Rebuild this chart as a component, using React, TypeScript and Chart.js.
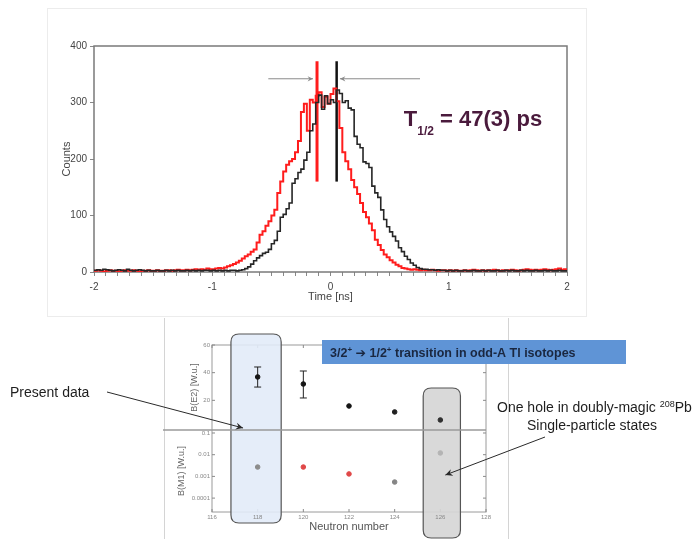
import React, { useEffect, useRef } from 'react';
import { Chart, registerables } from 'chart.js';

Chart.register(...registerables);

const FONT = '"Liberation Sans", Arial, "DejaVu Sans", sans-serif';

// ---------- Top panel: time difference spectra ----------
const timeStart = -2;
const timeEnd = 2;
const binWidth = 0.025;
const timeTickLabels = [-2, -1, 0, 1, 2];
const countTicks = [0, 100, 200, 300, 400];

const redCounts = [
  2, 3, 2, 1, 2, 3, 2, 2, 1, 2, 3, 2, 2, 3, 2, 1, 2, 2, 3, 2,
  2, 3, 2, 2, 3, 3, 2, 3, 4, 3, 3, 4, 3, 4, 5, 4, 5, 4, 6, 5,
  5, 6, 7, 6, 8, 10, 12, 14, 17, 20, 24, 28, 31, 36, 40, 52, 66, 72, 82, 90,
  100, 110, 140, 160, 178, 190, 196, 200, 212, 232, 283, 298, 250, 305, 300, 312, 318, 292, 310, 298,
  315, 325, 302, 255, 212, 196, 182, 163, 150, 138, 122, 106, 97, 86, 74, 57, 48, 39, 31, 26,
  21, 17, 13, 10, 7, 6, 5, 4, 5, 4, 3, 4, 3, 3, 4, 3, 2, 3, 3, 2,
  3, 2, 3, 2, 2, 3, 2, 3, 4, 3, 2, 3, 2, 3, 3, 4, 3, 2, 3, 3,
  3, 4, 3, 2, 3, 4, 5, 4, 3, 4, 3, 4, 5, 4, 3, 4, 5, 6, 4, 5,
];

const blackCounts = [
  3, 4, 3, 5, 4, 3, 2, 3, 4, 3, 2, 5, 3, 2, 3, 4, 3, 2, 3, 2,
  2, 3, 2, 2, 3, 2, 3, 2, 3, 2, 2, 3, 2, 3, 2, 3, 2, 3, 3, 2,
  3, 2, 3, 2, 3, 2, 3, 3, 2, 3, 4, 6, 9, 14, 20, 25, 29, 33, 35, 40,
  50, 56, 72, 97, 102, 112, 122, 157, 165, 176, 182, 198, 212, 250, 262, 300, 313, 288, 312, 298,
  305, 300, 322, 316, 300, 303, 290, 287, 240, 226, 220, 195, 192, 185, 152, 140, 132, 110, 93, 80,
  71, 63, 55, 43, 36, 28, 22, 16, 12, 8, 6, 5, 5, 4, 4, 3, 4, 3, 3, 2,
  3, 2, 3, 2, 2, 3, 2, 2, 3, 2, 2, 3, 2, 3, 2, 2, 3, 2, 2, 3,
  2, 3, 2, 2, 3, 2, 3, 2, 2, 3, 2, 2, 3, 2, 3, 2, 2, 3, 2, 2,
];

const redCentroid = -0.114;
const blackCentroid = 0.052;
const centroidLow = 160;
const centroidHigh = 373;
const leftArrowFrom = -0.526;
const leftArrowTo = -0.148;
const rightArrowFrom = 0.757;
const rightArrowTo = 0.08;
const arrowLevel = 342;
const halfLifeAnchor = { t: 0.62, counts: 258 };

// ---------- Bottom panel: B(E2) and B(M1) systematics ----------
const neutronNumbers = [118, 120, 122, 124, 126];
const neutronTicks = [116, 118, 120, 122, 124, 126, 128];
const be2Values = [36.9, 31.8, 15.9, 11.6, 5.8];
const be2ErrLow = [29.6, 21.7, 15.0, 10.8, 5.2];
const be2ErrHigh = [44.1, 41.2, 16.8, 12.4, 6.4];
const be2Ticks = [20, 40, 60];
const bm1Values = [0.0027, 0.0027, 0.0013, 0.00055, 0.012];
const bm1Ticks = [0.1, 0.01, 0.001, 0.0001];
const be2Colors = ['#151515', '#151515', '#151515', '#202020', '#303030'];
const bm1Colors = ['#8c8c8c', '#e04848', '#e04848', '#858585', '#b4b4b4'];

const presentBox = [116.83, 119.03];
const magicBox = [125.25, 126.88];

function toSteps(counts: number[]) {
  const pts = counts.map((c, i) => ({ x: timeStart + i * binWidth, y: c }));
  pts.push({ x: timeEnd, y: counts[counts.length - 1] });
  return pts;
}

function arrow(ctx: CanvasRenderingContext2D, x1: number, y1: number, x2: number, y2: number, head: number, color: string, lw: number) {
  ctx.save();
  ctx.strokeStyle = color;
  ctx.fillStyle = color;
  ctx.lineWidth = lw;
  ctx.beginPath();
  ctx.moveTo(x1, y1);
  ctx.lineTo(x2, y2);
  ctx.stroke();
  const a = Math.atan2(y2 - y1, x2 - x1);
  ctx.beginPath();
  ctx.moveTo(x2, y2);
  ctx.lineTo(x2 - head * Math.cos(a - 0.45), y2 - head * Math.sin(a - 0.45));
  ctx.lineTo(x2 - head * 0.6 * Math.cos(a), y2 - head * 0.6 * Math.sin(a));
  ctx.lineTo(x2 - head * Math.cos(a + 0.45), y2 - head * Math.sin(a + 0.45));
  ctx.closePath();
  ctx.fill();
  ctx.restore();
}

function roundRect(ctx: CanvasRenderingContext2D, x: number, y: number, w: number, h: number, r: number) {
  ctx.beginPath();
  ctx.moveTo(x + r, y);
  ctx.lineTo(x + w - r, y);
  ctx.quadraticCurveTo(x + w, y, x + w, y + r);
  ctx.lineTo(x + w, y + h - r);
  ctx.quadraticCurveTo(x + w, y + h, x + w - r, y + h);
  ctx.lineTo(x + r, y + h);
  ctx.quadraticCurveTo(x, y + h, x, y + h - r);
  ctx.lineTo(x, y + r);
  ctx.quadraticCurveTo(x, y, x + r, y);
  ctx.closePath();
}

function drawRuns(ctx: CanvasRenderingContext2D, x: number, y: number, runs: { text: string; font: string; dy?: number }[]) {
  for (const r of runs) {
    ctx.font = r.font;
    ctx.fillText(r.text, x, y + (r.dy || 0));
    x += ctx.measureText(r.text).width;
  }
  return x;
}

const topDecor = {
  id: 'topDecor',
  beforeDatasetsDraw(chart: any) {
    const { ctx, chartArea: a } = chart;
    ctx.save();
    ctx.strokeStyle = '#7a7a7a';
    ctx.lineWidth = 1.5;
    ctx.strokeRect(a.left, a.top, a.right - a.left, a.bottom - a.top);
    ctx.restore();
  },
  afterDatasetsDraw(chart: any) {
    const { ctx } = chart;
    const x = chart.scales.x;
    const y = chart.scales.y;
    const ay = y.getPixelForValue(arrowLevel);
    arrow(ctx, x.getPixelForValue(leftArrowFrom), ay, x.getPixelForValue(leftArrowTo), ay, 6, '#8a8a8a', 1);
    arrow(ctx, x.getPixelForValue(rightArrowFrom), ay, x.getPixelForValue(rightArrowTo), ay, 6, '#8a8a8a', 1);
    const tx = x.getPixelForValue(halfLifeAnchor.t);
    const ty = y.getPixelForValue(halfLifeAnchor.counts);
    ctx.save();
    ctx.fillStyle = '#4a1a3c';
    ctx.textBaseline = 'alphabetic';
    drawRuns(ctx, tx, ty, [
      { text: 'T', font: `bold 22px ${FONT}` },
      { text: '1/2', font: `bold 12px ${FONT}`, dy: 9 },
      { text: ' = 47(3) ps', font: `bold 22px ${FONT}` },
    ]);
    ctx.restore();
  },
};

const bottomDecor = {
  id: 'bottomDecor',
  beforeDraw(chart: any) {
    const { ctx, chartArea: a } = chart;
    const x = chart.scales.x;
    const yE2 = chart.scales.yE2;
    const yM1 = chart.scales.yM1;
    ctx.save();
    // frame
    ctx.strokeStyle = '#9a9a9a';
    ctx.lineWidth = 1;
    ctx.strokeRect(a.left, a.top, a.right - a.left, a.bottom - a.top);
    // tick marks
    ctx.strokeStyle = '#8a8a8a';
    for (const t of x.ticks) {
      const px = x.getPixelForValue(t.value);
      ctx.beginPath();
      ctx.moveTo(px, a.bottom); ctx.lineTo(px, a.bottom - 3);
      ctx.moveTo(px, a.top); ctx.lineTo(px, a.top + 3);
      ctx.stroke();
    }
    for (const s of [yE2, yM1]) {
      for (const t of s.ticks) {
        const py = s.getPixelForValue(t.value);
        ctx.beginPath();
        ctx.moveTo(a.left, py); ctx.lineTo(a.left + 3, py);
        ctx.moveTo(a.right, py); ctx.lineTo(a.right - 3, py);
        ctx.stroke();
      }
    }
    // highlight boxes
    const bx1 = x.getPixelForValue(presentBox[0]);
    const bx2 = x.getPixelForValue(presentBox[1]);
    roundRect(ctx, bx1, a.top - 11, bx2 - bx1, a.bottom - a.top + 22, 8);
    ctx.fillStyle = 'rgba(226,235,248,0.9)';
    ctx.fill();
    ctx.strokeStyle = '#555';
    ctx.lineWidth = 1.2;
    ctx.stroke();
    const gx1 = x.getPixelForValue(magicBox[0]);
    const gx2 = x.getPixelForValue(magicBox[1]);
    const gTop = yE2.getPixelForValue(28.9);
    roundRect(ctx, gx1, gTop, gx2 - gx1, a.bottom + 26 - gTop, 8);
    ctx.fillStyle = 'rgba(214,214,214,0.92)';
    ctx.fill();
    ctx.strokeStyle = '#555';
    ctx.stroke();
    // panel divider
    ctx.strokeStyle = '#9a9a9a';
    ctx.lineWidth = 1.6;
    ctx.beginPath();
    ctx.moveTo(163, yM1.top);
    ctx.lineTo(a.right, yM1.top);
    ctx.stroke();
    ctx.restore();
  },
  beforeDatasetsDraw(chart: any) {
    const { ctx } = chart;
    const x = chart.scales.x;
    const yE2 = chart.scales.yE2;
    ctx.save();
    ctx.strokeStyle = '#222';
    ctx.lineWidth = 1;
    neutronNumbers.forEach((n, i) => {
      const px = x.getPixelForValue(n);
      const lo = yE2.getPixelForValue(be2ErrLow[i]);
      const hi = yE2.getPixelForValue(be2ErrHigh[i]);
      ctx.beginPath();
      ctx.moveTo(px, lo); ctx.lineTo(px, hi);
      if (lo - hi > 8) {
        ctx.moveTo(px - 3.5, lo); ctx.lineTo(px + 3.5, lo);
        ctx.moveTo(px - 3.5, hi); ctx.lineTo(px + 3.5, hi);
      }
      ctx.stroke();
    });
    ctx.restore();
  },
  afterDraw(chart: any) {
    const { ctx } = chart;
    const x = chart.scales.x;
    const yE2 = chart.scales.yE2;
    const yM1 = chart.scales.yM1;
    ctx.save();
    // title banner
    ctx.fillStyle = '#5f94d6';
    ctx.fillRect(322, 22, 304, 24);
    ctx.fillStyle = '#1a2740';
    ctx.textBaseline = 'alphabetic';
    const bf = `bold 12.5px ${FONT}`;
    const sf = `bold 8px ${FONT}`;
    drawRuns(ctx, 330, 39, [
      { text: '3/2', font: bf },
      { text: '+', font: sf, dy: -5 },
      { text: ' \u2794 1/2', font: bf },
      { text: '+', font: sf, dy: -5 },
      { text: ' transition in odd-A Tl isotopes', font: bf },
    ]);
    // annotations
    ctx.fillStyle = '#1e1e1e';
    ctx.font = `14px ${FONT}`;
    ctx.fillText('Present data', 10, 79);
    drawRuns(ctx, 497, 94, [
      { text: 'One hole in doubly-magic ', font: `14px ${FONT}` },
      { text: '208', font: `9px ${FONT}`, dy: -5 },
      { text: 'Pb', font: `14px ${FONT}` },
    ]);
    ctx.textAlign = 'center';
    ctx.font = `14px ${FONT}`;
    ctx.fillText('Single-particle states', 592, 112);
    ctx.restore();
    arrow(ctx, 107, 74, x.getPixelForValue(117.36), yE2.getPixelForValue(0), 8, '#2a2a2a', 1);
    arrow(ctx, 545, 119, x.getPixelForValue(126.22), yM1.getPixelForValue(0.00116), 8, '#2a2a2a', 1);
  },
};

export default function App() {
  const topRef = useRef<HTMLCanvasElement>(null);
  const botRef = useRef<HTMLCanvasElement>(null);

  useEffect(() => {
    const tickFont = { family: FONT, size: 10 };
    const top = new Chart(topRef.current as HTMLCanvasElement, {
      type: 'line',
      data: {
        datasets: [
          { label: 'gate B', data: toSteps(blackCounts), borderColor: '#262626', borderWidth: 1.6, stepped: true, pointRadius: 0, fill: false },
          { label: 'gate A', data: toSteps(redCounts), borderColor: '#ff1c1c', borderWidth: 2, stepped: true, pointRadius: 0, fill: false },
          { label: 'centroid B', data: [{ x: blackCentroid, y: centroidLow }, { x: blackCentroid, y: centroidHigh }], borderColor: '#111', borderWidth: 2.5, pointRadius: 0 },
          { label: 'centroid A', data: [{ x: redCentroid, y: centroidLow }, { x: redCentroid, y: centroidHigh }], borderColor: '#ff1c1c', borderWidth: 3, pointRadius: 0 },
        ],
      },
      options: {
        responsive: false,
        animation: false,
        layout: { padding: { left: 56, top: 46, right: 131, bottom: 10 } },
        plugins: { legend: { display: false }, tooltip: { enabled: false } },
        scales: {
          x: {
            type: 'linear',
            min: timeStart,
            max: timeEnd,
            ticks: {
              stepSize: 0.1,
              maxTicksLimit: 100,
              autoSkip: false,
              maxRotation: 0,
              padding: 5,
              font: tickFont,
              color: '#444',
              callback: (v: any) => {
                const r = Math.round(v);
                return Math.abs(v - r) < 1e-6 && timeTickLabels.includes(r) ? String(r) : '';
              },
            },
            grid: { drawOnChartArea: false, drawTicks: true, tickLength: 4, color: '#888' },
            border: { display: false },
            title: { display: true, text: 'Time [ns]', color: '#444', font: { family: FONT, size: 11 }, padding: { top: 0, bottom: 4 } },
            afterFit: (s: any) => { s.height = 36; },
          },
          y: {
            min: 0,
            max: 400,
            afterBuildTicks: (s: any) => { s.ticks = countTicks.map((v) => ({ value: v })); },
            ticks: { font: tickFont, color: '#444', padding: 3 },
            grid: { drawOnChartArea: false, drawTicks: true, tickLength: 4, color: '#888' },
            border: { display: false },
            title: { display: true, text: 'Counts', color: '#444', font: { family: FONT, size: 11 }, padding: { top: 4, bottom: 0 } },
            afterFit: (s: any) => { s.width = 38; },
          },
        },
      },
      plugins: [topDecor],
    } as any);

    const smallTick = { family: FONT, size: 6 };
    const bottom = new Chart(botRef.current as HTMLCanvasElement, {
      type: 'scatter',
      data: {
        datasets: [
          {
            label: 'B(E2)',
            data: neutronNumbers.map((n, i) => ({ x: n, y: be2Values[i] })),
            yAxisID: 'yE2',
            pointRadius: 2.3,
            pointBackgroundColor: be2Colors,
            pointBorderColor: be2Colors,
          },
          {
            label: 'B(M1)',
            data: neutronNumbers.map((n, i) => ({ x: n, y: bm1Values[i] })),
            yAxisID: 'yM1',
            pointRadius: 2.3,
            pointBackgroundColor: bm1Colors,
            pointBorderColor: bm1Colors,
          },
        ],
      },
      options: {
        responsive: false,
        animation: false,
        layout: { padding: { left: 170, top: 27, right: 212, bottom: 5 } },
        plugins: { legend: { display: false }, tooltip: { enabled: false } },
        scales: {
          x: {
            type: 'linear',
            min: 116,
            max: 128,
            afterBuildTicks: (s: any) => { s.ticks = neutronTicks.map((v) => ({ value: v })); },
            ticks: { font: smallTick, color: '#888', padding: 2, maxRotation: 0, autoSkip: false },
            grid: { display: false, drawTicks: false },
            border: { display: false },
            title: { display: true, text: 'Neutron number', color: '#555', font: { family: FONT, size: 11 }, padding: { top: 0, bottom: 0 } },
            afterFit: (s: any) => { s.height = 22; },
          },
          yE2: {
            type: 'linear',
            position: 'left',
            stack: 'panels',
            stackWeight: 85,
            weight: 1,
            min: -1.45,
            max: 60,
            afterBuildTicks: (s: any) => { s.ticks = be2Ticks.map((v) => ({ value: v })); },
            ticks: { font: smallTick, color: '#888', padding: 2 },
            grid: { display: false, drawTicks: false },
            border: { display: false },
            title: { display: true, text: 'B(E2) [W.u.]', color: '#666', font: { family: FONT, size: 9 }, padding: { top: 19, bottom: 0 } },
            afterFit: (s: any) => { s.width = 42; },
          },
          yM1: {
            type: 'logarithmic',
            position: 'left',
            stack: 'panels',
            stackWeight: 82,
            weight: 0,
            min: 2.29e-5,
            max: 0.1374,
            afterBuildTicks: (s: any) => { s.ticks = bm1Ticks.map((v) => ({ value: v })); },
            ticks: { font: smallTick, color: '#888', padding: 2, callback: (v: any) => String(v) },
            grid: { display: false, drawTicks: false },
            border: { display: false },
            title: { display: true, text: 'B(M1) [W.u.]', color: '#666', font: { family: FONT, size: 9 }, padding: { top: 6, bottom: 0 } },
            afterFit: (s: any) => { s.width = 42; },
          },
        },
      },
      plugins: [bottomDecor],
    } as any);

    return () => {
      top.destroy();
      bottom.destroy();
    };
  }, []);

  return (
    <div style={{ position: 'absolute', left: 0, top: 0, width: 698, height: 539, background: '#fff', overflow: 'hidden' }}>
      <div style={{ position: 'absolute', left: 47, top: 8, width: 540, height: 309, border: '1px solid #ececec', boxSizing: 'border-box' }} />
      <canvas ref={topRef} width={698} height={318} style={{ position: 'absolute', left: 0, top: 0, width: 698, height: 318 }} />
      <div style={{ position: 'absolute', left: 164, top: 318, width: 345, height: 221, borderLeft: '1px solid #d4d4d4', borderRight: '1px solid #d4d4d4', boxSizing: 'border-box' }} />
      <canvas ref={botRef} width={698} height={221} style={{ position: 'absolute', left: 0, top: 318, width: 698, height: 221 }} />
    </div>
  );
}
